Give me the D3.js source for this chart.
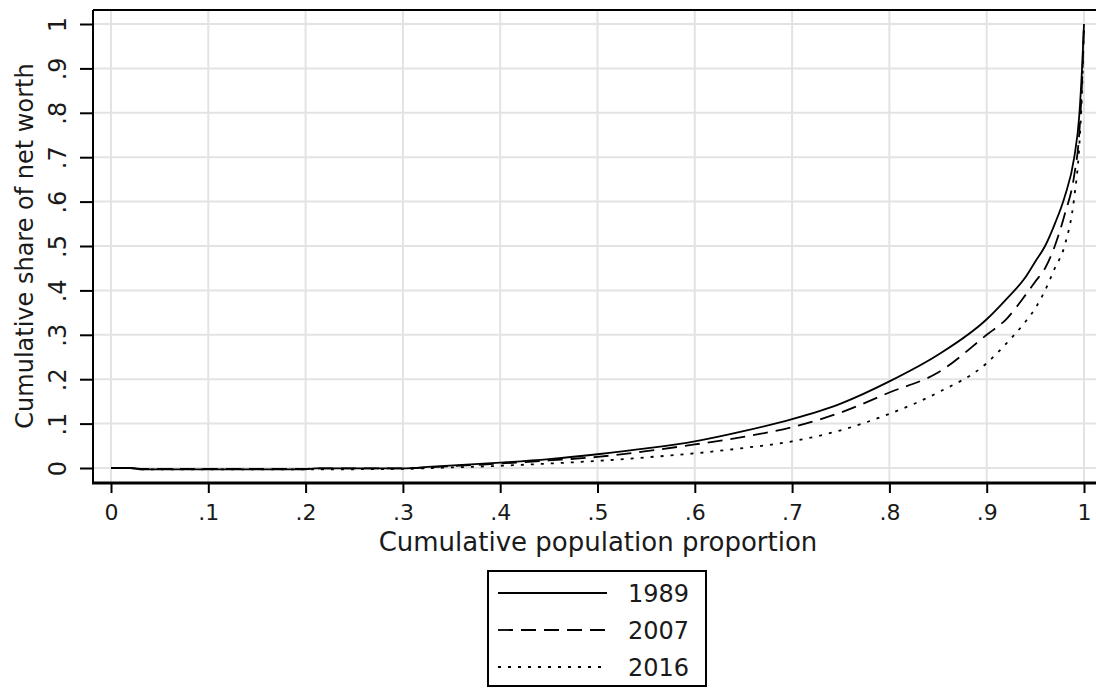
<!DOCTYPE html>
<html>
<head>
<meta charset="utf-8">
<script src="https://cdn.jsdelivr.net/npm/d3@7"></script>
<style>
  body { margin: 0; background: #fff; }
  text { font-family: "DejaVu Sans", sans-serif; fill: #1a1a1a; }
</style>
</head>
<body>
<svg id="chart" width="1096" height="688"></svg>
<script>
// cumulative population proportion (x) and cumulative share of net worth per year
const popShare = [0, 0.02, 0.03, 0.1, 0.2, 0.21, 0.3, 0.33, 0.4, 0.45, 0.5, 0.55, 0.6, 0.65, 0.7, 0.75, 0.8, 0.85, 0.9, 0.92, 0.94, 0.95, 0.96, 0.97, 0.98, 0.99, 0.995, 0.998, 1];
const w1989 = [0, 0, -0.003, -0.003, -0.003, -0.001, -0.001, 0.003, 0.012, 0.02, 0.031, 0.044, 0.06, 0.083, 0.11, 0.145, 0.195, 0.255, 0.335, 0.38, 0.43, 0.465, 0.5, 0.55, 0.61, 0.7, 0.79, 0.9, 1];
const w2007 = [0, 0, -0.002, -0.002, -0.002, -0.001, -0.001, 0.002, 0.01, 0.017, 0.025, 0.038, 0.053, 0.07, 0.092, 0.125, 0.17, 0.215, 0.3, 0.335, 0.39, 0.42, 0.45, 0.5, 0.57, 0.66, 0.75, 0.87, 1];
const w2016 = [0, 0, -0.003, -0.003, -0.003, -0.003, -0.002, 0, 0.005, 0.01, 0.016, 0.024, 0.033, 0.045, 0.06, 0.085, 0.122, 0.17, 0.236, 0.28, 0.33, 0.36, 0.4, 0.45, 0.5, 0.61, 0.72, 0.85, 1];
const years = ["1989", "2007", "2016"];
const tickVals = [0, 0.1, 0.2, 0.3, 0.4, 0.5, 0.6, 0.7, 0.8, 0.9, 1];
const tickLabels = ["0", ".1", ".2", ".3", ".4", ".5", ".6", ".7", ".8", ".9", "1"];

const series = [w1989, w2007, w2016];
const dashes = [null, "15,8", "3,7"];

const svg = d3.select("#chart");
const x = d3.scaleLinear().domain([0, 1]).range([111, 1084]);
const y = d3.scaleLinear().domain([0, 1]).range([468, 24]);
const fmt = d => tickLabels[tickVals.indexOf(d)];

// grid
svg.append("g").selectAll("line").data(tickVals).enter().append("line")
  .attr("x1", d => x(d)).attr("x2", d => x(d)).attr("y1", 10).attr("y2", 483)
  .attr("stroke", "#e3e3e3").attr("stroke-width", 2);
svg.append("g").selectAll("line").data(tickVals).enter().append("line")
  .attr("x1", 93).attr("x2", 1096).attr("y1", d => y(d)).attr("y2", d => y(d))
  .attr("stroke", "#e3e3e3").attr("stroke-width", 2);

// top frame
svg.append("line").attr("x1", 93).attr("x2", 1096).attr("y1", 10).attr("y2", 10)
  .attr("stroke", "#000").attr("stroke-width", 2);

// curves
const line = d3.line()
  .x((d, i) => x(popShare[i]))
  .y(d => y(d))
  .curve(d3.curveMonotoneX);

series.forEach((s, k) => {
  svg.append("path")
    .attr("d", line(s))
    .attr("fill", "none")
    .attr("stroke", "#000")
    .attr("stroke-width", 1.8)
    .attr("stroke-dasharray", dashes[k]);
});

// y axis
let yAxis = svg.append("g").attr("transform", "translate(93,0)")
  .call(d3.axisLeft(y).tickValues(tickVals).tickFormat(fmt).tickSize(13).tickSizeOuter(0));
yAxis.select(".domain").attr("d", "M0,10V483").attr("stroke-width", 2);
yAxis.selectAll(".tick line").attr("stroke-width", 2);
yAxis.selectAll(".tick text")
  .attr("transform", "rotate(-90)")
  .attr("x", 0).attr("y", -27).attr("dy", 0)
  .attr("text-anchor", "middle")
  .style("font-size", "24px");

// x axis
let xAxis = svg.append("g").attr("transform", "translate(0,483)")
  .call(d3.axisBottom(x).tickValues(tickVals).tickFormat(fmt).tickSize(10).tickSizeOuter(0));
xAxis.select(".domain").attr("d", "M92,0H1096").attr("stroke-width", 3);
xAxis.selectAll(".tick line").attr("stroke-width", 2);
xAxis.selectAll(".tick text")
  .attr("y", 37).attr("dy", 0)
  .style("font-size", "22px");

// titles
svg.append("text")
  .attr("x", 598).attr("y", 551)
  .attr("text-anchor", "middle")
  .style("font-size", "26px")
  .text("Cumulative population proportion");
svg.append("text")
  .attr("transform", "translate(33,246) rotate(-90)")
  .attr("text-anchor", "middle")
  .style("font-size", "24px")
  .text("Cumulative share of net worth");

// legend
let legend = svg.append("g");
legend.append("rect")
  .attr("x", 488).attr("y", 571).attr("width", 218).attr("height", 115)
  .attr("fill", "#fff").attr("stroke", "#000").attr("stroke-width", 2);
years.forEach((yr, k) => {
  let ly = 593 + k * 37;
  legend.append("line")
    .attr("x1", 498).attr("x2", 607).attr("y1", ly).attr("y2", ly)
    .attr("stroke", "#000").attr("stroke-width", 1.8)
    .attr("stroke-dasharray", dashes[k]);
  legend.append("text")
    .attr("x", 628).attr("y", ly + 9)
    .style("font-size", "24px")
    .text(yr);
});
</script>
</body>
</html>
